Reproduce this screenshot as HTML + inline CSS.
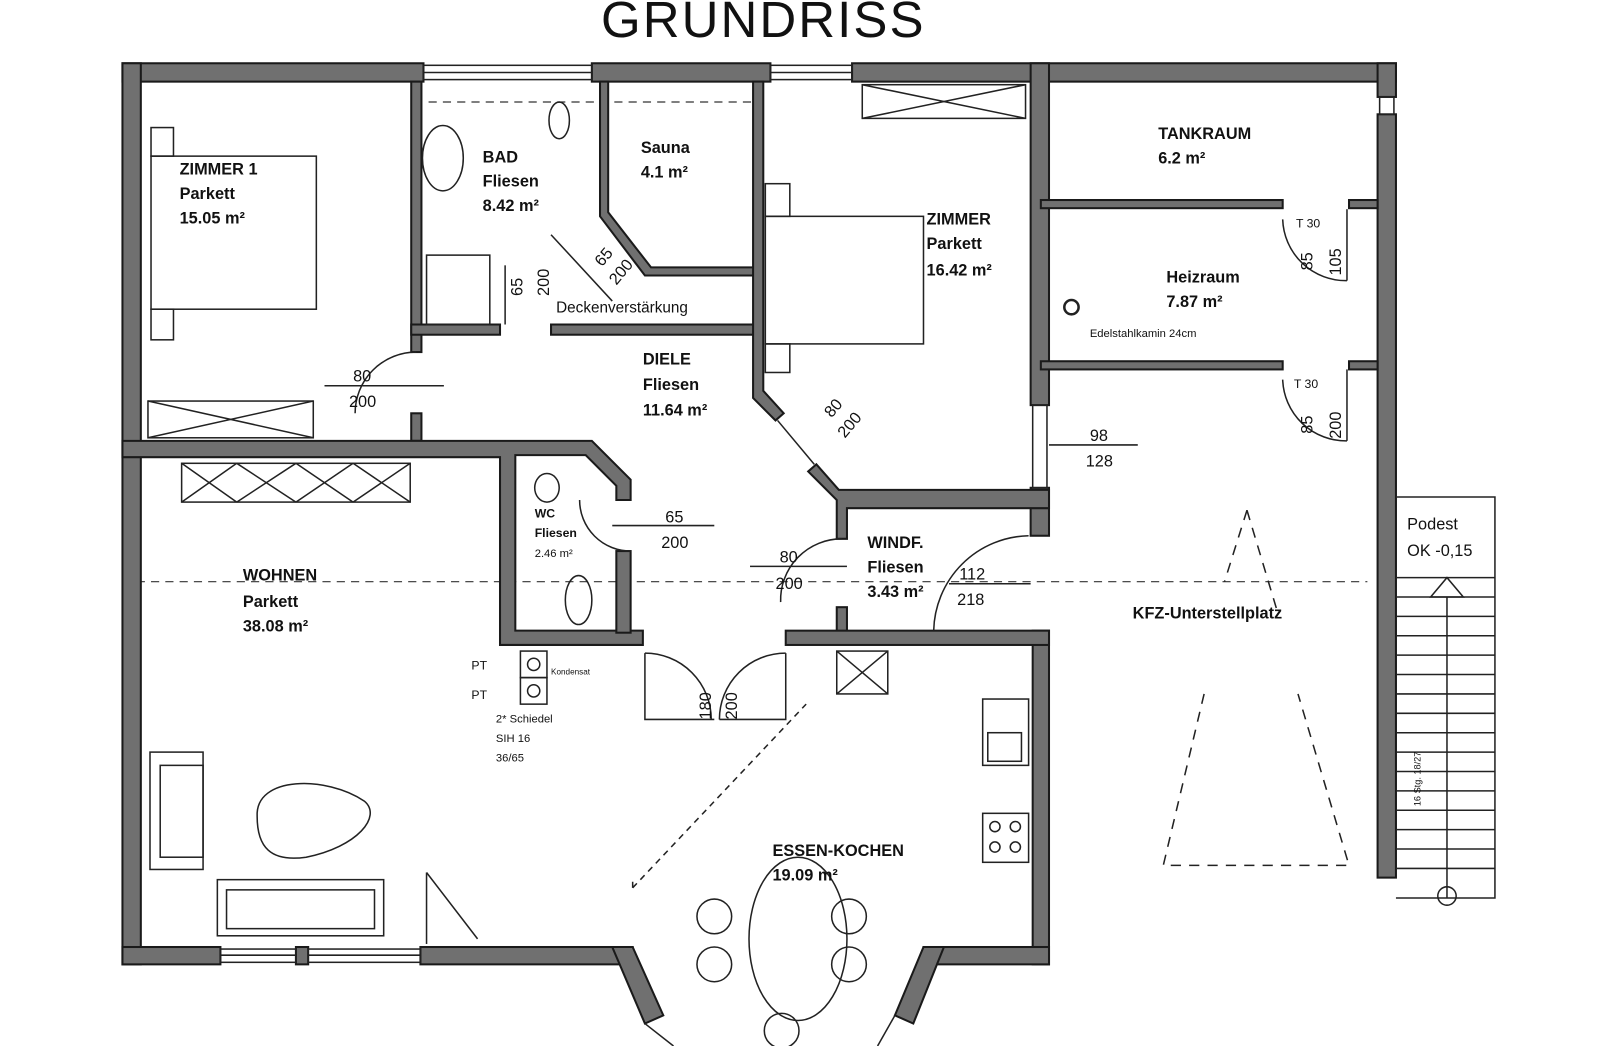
<!DOCTYPE html>
<html><head><meta charset="utf-8"><style>
html,body{margin:0;padding:0;background:#fff;}
svg{display:block}
text{font-family:"Liberation Sans",sans-serif;fill:#111}
.w{fill:#707070;stroke:#1a1a1a;stroke-width:2}
.t{fill:none;stroke:#222;stroke-width:1.5}
.d{fill:none;stroke:#333;stroke-width:1.2;stroke-dasharray:8 6}
.b{font-weight:bold;font-size:16px}
.n{font-size:16px}
</style></head><body>
<svg width="1598" height="1046" viewBox="0 0 1566 1025" preserveAspectRatio="none" xmlns="http://www.w3.org/2000/svg">
<text x="748" y="36" font-size="50" text-anchor="middle" style="font-family:'Liberation Sans',sans-serif;letter-spacing:2px" fill="#222">GRUNDRISS</text>

<!-- dashed axis lines -->
<line class="d" x1="120" y1="570" x2="1340" y2="570"/>
<line class="d" x1="420" y1="100" x2="740" y2="100"/>

<!-- outer walls -->
<rect class="w" x="120" y="62" width="295" height="18"/>
<rect class="w" x="580" y="62" width="175" height="18"/>
<rect class="w" x="835" y="62" width="533" height="18"/>
<rect class="w" x="120" y="62" width="18" height="883"/>
<rect class="w" x="1350" y="62" width="18" height="33"/>
<rect class="w" x="1350" y="112" width="18" height="748"/>
<rect class="w" x="1010" y="62" width="18" height="335"/>
<rect class="w" x="1010" y="478" width="18" height="47"/>
<rect class="w" x="1012" y="618" width="16" height="327"/>
<rect class="w" x="120" y="928" width="96" height="17"/>
<rect class="w" x="290" y="928" width="12" height="17"/>
<rect class="w" x="412" y="928" width="208" height="17"/>
<rect class="w" x="905" y="928" width="123" height="17"/>
<polygon class="w" points="600,928 620,928 650,995 632,1003"/>
<polygon class="w" points="905,928 925,928 895,1003 877,995"/>

<!-- windows (thin lines) -->
<g class="t">
<rect x="415" y="64" width="165" height="14"/><line x1="415" y1="71" x2="580" y2="71"/>
<rect x="755" y="64" width="80" height="14"/><line x1="755" y1="71" x2="835" y2="71"/>
<rect x="216" y="930" width="74" height="13"/><line x1="216" y1="936" x2="290" y2="936"/>
<rect x="302" y="930" width="110" height="13"/><line x1="302" y1="936" x2="412" y2="936"/>
<line x1="632" y1="1003" x2="660" y2="1025"/><line x1="877" y1="995" x2="860" y2="1025"/>
<rect x="1352" y="95" width="14" height="17"/>
<rect x="1012" y="397" width="14" height="81"/>
</g>

<!-- interior walls -->
<rect class="w" x="403" y="80" width="10" height="265"/>
<rect class="w" x="403" y="405" width="10" height="27"/>
<rect class="w" x="403" y="318" width="87" height="10"/>
<rect class="w" x="540" y="318" width="205" height="10"/>
<polygon class="w" points="120,432 580,432 618,470 618,490 604,490 604,476 574,446 505,446 505,618 630,618 630,632 490,632 490,448 120,448"/>
<rect class="w" x="604" y="540" width="14" height="80"/>
<polygon class="w" points="588,80 596,80 596,208 638,262 745,262 745,270 632,270 588,212"/>
<polygon class="w" points="738,80 748,80 748,383 768,405 760,412 738,390"/>
<polygon class="w" points="800,455 822,480 1028,480 1028,498 830,498 830,528 820,528 820,490 792,462"/>
<rect class="w" x="820" y="595" width="10" height="25"/>
<rect class="w" x="770" y="618" width="258" height="14"/>
<rect class="w" x="1020" y="196" width="237" height="8"/>
<rect class="w" x="1322" y="196" width="28" height="8"/>
<rect class="w" x="1020" y="354" width="237" height="8"/>
<rect class="w" x="1322" y="354" width="28" height="8"/>

<!-- furniture -->
<g class="t" stroke-width="1.2">
<rect x="148" y="153" width="162" height="150"/><rect x="148" y="125" width="22" height="28"/><rect x="148" y="303" width="22" height="30"/>
<rect x="145" y="393" width="162" height="36"/><line x1="145" y1="393" x2="307" y2="429"/><line x1="145" y1="429" x2="307" y2="393"/>
<rect x="178" y="454" width="224" height="38"/>
<line x1="178" y1="454" x2="232" y2="492"/><line x1="232" y1="454" x2="178" y2="492"/><line x1="232" y1="454" x2="290" y2="492"/><line x1="290" y1="454" x2="232" y2="492"/><line x1="290" y1="454" x2="346" y2="492"/><line x1="346" y1="454" x2="290" y2="492"/><line x1="346" y1="454" x2="402" y2="492"/><line x1="402" y1="454" x2="346" y2="492"/>
<rect x="845" y="83" width="160" height="33"/><line x1="845" y1="83" x2="1005" y2="116"/><line x1="845" y1="116" x2="1005" y2="83"/>
<rect x="750" y="212" width="155" height="125"/><rect x="750" y="180" width="24" height="32"/><rect x="750" y="337" width="24" height="28"/>
<ellipse cx="434" cy="155" rx="20" ry="32"/><ellipse cx="548" cy="118" rx="10" ry="18"/>
<rect x="418" y="250" width="62" height="68"/>
<ellipse cx="536" cy="478" rx="12" ry="14"/><ellipse cx="567" cy="588" rx="13" ry="24"/>
<rect x="820" y="638" width="50" height="42"/><line x1="820" y1="638" x2="870" y2="680"/><line x1="820" y1="680" x2="870" y2="638"/>
<rect x="963" y="685" width="45" height="65"/><rect x="968" y="718" width="33" height="28"/>
<rect x="963" y="797" width="45" height="48"/><circle cx="975" cy="810" r="5"/><circle cx="995" cy="810" r="5"/><circle cx="975" cy="830" r="5"/><circle cx="995" cy="830" r="5"/>
<rect x="147" y="737" width="52" height="115"/><rect x="157" y="750" width="42" height="90"/>
<path d="M252,800 C250,760 320,760 357,785 C375,800 350,830 300,840 C265,845 252,830 252,800Z"/>
<rect x="213" y="862" width="163" height="55"/><rect x="222" y="872" width="145" height="38"/>
<ellipse cx="782" cy="920" rx="48" ry="80"/>
<circle cx="700" cy="898" r="17"/><circle cx="832" cy="898" r="17"/><circle cx="700" cy="945" r="17"/><circle cx="832" cy="945" r="17"/><circle cx="766" cy="1010" r="17"/>
<rect x="510" y="638" width="26" height="26"/><circle cx="523" cy="651" r="6"/>
<rect x="510" y="664" width="26" height="26"/><circle cx="523" cy="677" r="6"/>
<circle cx="1050" cy="301" r="7" stroke-width="2.5"/>
</g>
<!-- doors / dims -->
<g class="t" stroke-width="1.1">
<path d="M408,345 A60,60 0 0 0 348,405"/><line x1="318" y1="378" x2="435" y2="378"/>
<path d="M618,540 A50,50 0 0 1 568,490"/><line x1="600" y1="515" x2="700" y2="515"/>
<path d="M825,528 A60,60 0 0 0 765,590"/><line x1="735" y1="555" x2="830" y2="555"/>
<path d="M1008,525 A95,95 0 0 0 915,618"/><line x1="930" y1="572" x2="1010" y2="572"/>
<path d="M632,640 L632,705 L700,705"/><path d="M770,640 L770,705 L705,705"/><path d="M632,640 A65,65 0 0 1 697,705"/><path d="M770,640 A65,65 0 0 0 705,705"/>
<line x1="1028" y1="436" x2="1115" y2="436"/>
<path d="M1257,215 A62,62 0 0 0 1320,275"/><line x1="1320" y1="205" x2="1320" y2="275"/>
<path d="M1257,372 A62,62 0 0 0 1320,432"/><line x1="1320" y1="362" x2="1320" y2="432"/>
<line x1="762" y1="412" x2="798" y2="455"/>
<line x1="540" y1="230" x2="600" y2="295"/>
<line x1="495" y1="260" x2="495" y2="318"/>
<path d="M620,870 L790,690 M620,870 L620,860" stroke-dasharray="6 5"/>
<line x1="418" y1="855" x2="468" y2="920"/><line x1="418" y1="855" x2="418" y2="925"/>
<path d="M1222,500 L1252,600 M1222,500 L1200,570 M1180,680 L1140,848 L1322,848 L1272,680" stroke-dasharray="10 8"/>
</g>
<!-- stairs -->
<g class="t" stroke-width="1.2">
<path d="M1368,487 L1465,487 L1465,880 L1368,880"/>
<line x1="1368" y1="566" x2="1465" y2="566"/>
<path d="M1402,585 L1418,566 L1434,585Z"/>
<line x1="1418" y1="585" x2="1418" y2="880"/>
<g id="st">
<line x1="1368" y1="585" x2="1465" y2="585"/><line x1="1368" y1="604" x2="1465" y2="604"/><line x1="1368" y1="623" x2="1465" y2="623"/><line x1="1368" y1="642" x2="1465" y2="642"/><line x1="1368" y1="661" x2="1465" y2="661"/><line x1="1368" y1="680" x2="1465" y2="680"/><line x1="1368" y1="699" x2="1465" y2="699"/><line x1="1368" y1="718" x2="1465" y2="718"/><line x1="1368" y1="737" x2="1465" y2="737"/><line x1="1368" y1="756" x2="1465" y2="756"/><line x1="1368" y1="775" x2="1465" y2="775"/><line x1="1368" y1="794" x2="1465" y2="794"/><line x1="1368" y1="813" x2="1465" y2="813"/><line x1="1368" y1="832" x2="1465" y2="832"/><line x1="1368" y1="851" x2="1465" y2="851"/>
</g>
<circle cx="1418" cy="878" r="9"/>
</g>

<!-- labels -->
<text class="b" x="176" y="171">ZIMMER 1</text><text class="b" x="176" y="195">Parkett</text><text class="b" x="176" y="219">15.05 m²</text>
<text class="b" x="473" y="159">BAD</text><text class="b" x="473" y="183">Fliesen</text><text class="b" x="473" y="207">8.42 m²</text>
<text class="b" x="628" y="150">Sauna</text><text class="b" x="628" y="174">4.1 m²</text>
<text class="b" x="908" y="220">ZIMMER</text><text class="b" x="908" y="244">Parkett</text><text class="b" x="908" y="270">16.42 m²</text>
<text class="b" x="1135" y="136">TANKRAUM</text><text class="b" x="1135" y="160">6.2 m²</text>
<text class="b" x="1143" y="277">Heizraum</text><text class="b" x="1143" y="301">7.87 m²</text>
<text x="1068" y="330" font-size="11">Edelstahlkamin 24cm</text>
<text x="1270" y="223" font-size="12">T 30</text><text x="1268" y="380" font-size="12">T 30</text>
<text class="b" x="630" y="357">DIELE</text><text class="b" x="630" y="382">Fliesen</text><text class="b" x="630" y="407">11.64 m²</text>
<text x="524" y="507" font-size="12" font-weight="bold">WC</text><text x="524" y="526" font-size="12" font-weight="bold">Fliesen</text><text x="524" y="546" font-size="11">2.46 m²</text>
<text class="b" x="850" y="537">WINDF.</text><text class="b" x="850" y="561">Fliesen</text><text class="b" x="850" y="585">3.43 m²</text>
<text class="b" x="238" y="569">WOHNEN</text><text class="b" x="238" y="595">Parkett</text><text class="b" x="238" y="619">38.08 m²</text>
<text class="b" x="757" y="839">ESSEN-KOCHEN</text><text class="b" x="757" y="863">19.09 m²</text>
<text class="b" x="1110" y="606">KFZ-Unterstellplatz</text>
<text class="n" x="1379" y="519">Podest</text><text class="n" x="1379" y="545">OK -0,15</text>
<text class="n" x="346" y="374">80</text><text class="n" x="342" y="399">200</text>
<text class="n" x="652" y="512">65</text><text class="n" x="648" y="537">200</text>
<text class="n" x="764" y="551">80</text><text class="n" x="760" y="577">200</text>
<text class="n" x="940" y="568">112</text><text class="n" x="938" y="593">218</text>
<text class="n" x="1068" y="432">98</text><text class="n" x="1064" y="457">128</text>
<text class="n" transform="translate(512,290) rotate(-90)">65</text>
<text class="n" transform="translate(538,290) rotate(-90)">200</text>
<text class="n" transform="translate(590,262) rotate(-50)">65</text>
<text class="n" transform="translate(604,280) rotate(-50)">200</text>
<text class="n" transform="translate(815,410) rotate(-50)">80</text>
<text class="n" transform="translate(828,430) rotate(-50)">200</text>
<text class="n" transform="translate(1286,265) rotate(-90)">85</text>
<text class="n" transform="translate(1314,270) rotate(-90)">105</text>
<text class="n" transform="translate(1286,425) rotate(-90)">85</text>
<text class="n" transform="translate(1314,430) rotate(-90)">200</text>
<text class="n" transform="translate(697,705) rotate(-90)">180</text>
<text class="n" transform="translate(722,705) rotate(-90)">200</text>
<text x="545" y="306" font-size="15">Deckenverstärkung</text>
<text x="462" y="656" font-size="12">PT</text><text x="462" y="685" font-size="12">PT</text>
<text x="540" y="661" font-size="8">Kondensat</text>
<text x="486" y="708" font-size="11">2* Schiedel</text><text x="486" y="727" font-size="11">SIH 16</text><text x="486" y="746" font-size="11">36/65</text>
<text font-size="9" transform="translate(1392,790) rotate(-90)">16 Stg. 18/27</text>
</svg>
</body></html>
